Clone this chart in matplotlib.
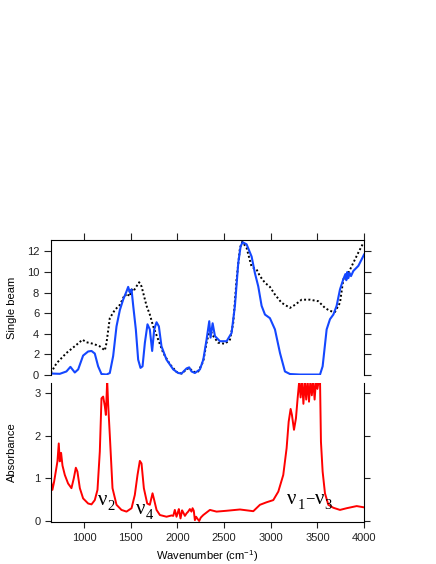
import numpy as np
import matplotlib.pyplot as plt

plt.rcParams['font.family'] = ['Liberation Sans', 'DejaVu Sans']

# single beam, blue trace
blue_x = [643, 739, 810, 853, 900, 936, 989, 1043, 1079, 1114, 1150, 1186, 1240, 1275,
          1311, 1347, 1383, 1418, 1454, 1472, 1490, 1508, 1526, 1554, 1579, 1604, 1626,
          1651, 1679, 1704, 1729, 1751, 1776, 1801, 1829, 1883, 1955, 2008, 2044, 2098,
          2126, 2151, 2187, 2241, 2277, 2312, 2341, 2355, 2377, 2402, 2455, 2527, 2580,
          2616, 2652, 2677, 2698, 2741, 2795, 2830, 2866, 2902, 2938, 2991, 3045, 3099,
          3152, 3206, 3313, 3528, 3556, 3599, 3635, 3671, 3706, 3742, 3778, 3800, 3810,
          3820, 3832, 3845, 3860, 3885, 3939, 4000]
blue_y = [0.1, 0.07, 0.3, 0.75, 0.2, 0.5, 1.85, 2.25, 2.3, 2.05, 0.8, 0.05, 0.0, 0.15,
          1.8, 4.7, 6.3, 7.3, 8.1, 8.55, 8.0, 8.3, 6.7, 4.4, 1.45, 0.65, 0.8,
          3.1, 4.9, 4.4, 2.3, 4.4, 5.1, 4.7, 2.75, 1.45, 0.5, 0.15, 0.1, 0.6,
          0.7, 0.3, 0.15, 0.5, 1.45, 3.4, 5.2, 3.6, 5.0, 3.75, 3.25, 3.25, 4.05,
          6.7, 10.9, 12.5, 12.9, 12.7, 11.5, 9.9, 8.6, 6.7, 5.85, 5.5, 4.4, 2.1,
          0.3, 0.05, 0.0, 0.0, 0.8, 4.4, 5.4, 5.85, 6.7, 8.3, 9.3, 9.8, 9.2,
          10.0, 9.4, 9.9, 9.6, 10.1, 10.6, 11.7]

# single beam, reference (dotted)
ref_x = [643, 704, 810, 918, 982, 1025, 1097, 1168, 1222, 1240, 1275, 1329, 1383, 1436,
         1470, 1490, 1500, 1510, 1526, 1561, 1590, 1615, 1669, 1704, 1740, 1794, 1848,
         1919, 1991, 2044, 2098, 2126, 2169, 2223, 2277, 2312, 2348, 2384, 2437, 2509,
         2563, 2598, 2634, 2670, 2695, 2741, 2795, 2848, 2884, 2938, 2991, 3045, 3116,
         3206, 3260, 3331, 3420, 3510, 3581, 3635, 3688, 3742, 3778, 3832, 3885, 3939,
         3993]
ref_y = [0.15, 1.1, 2.1, 2.9, 3.4, 3.15, 3.0, 2.75, 2.35, 3.1, 5.5, 6.3, 6.8, 7.8,
         7.6, 8.2, 7.7, 8.3, 8.1, 8.6, 9.0, 8.6, 6.7, 5.85, 4.7, 3.4, 2.1,
         1.0, 0.25, 0.1, 0.5, 0.65, 0.25, 0.3, 1.3, 3.1, 4.4, 3.75, 3.1, 3.0,
         3.4, 5.05, 9.3, 12.35, 12.95, 12.35, 10.5, 10.25, 9.6, 8.95, 8.55, 7.8, 7.0,
         6.5, 6.8, 7.3, 7.3, 7.15, 6.5, 6.2, 6.1, 7.0, 9.3, 9.9, 10.9, 11.9,
         12.85]

# absorbance
abs_x = [643, 660, 678, 696, 714, 728, 739, 753, 768, 793, 828, 864, 889, 911, 928, 954,
         989, 1043, 1079, 1114, 1143, 1168, 1186, 1204, 1222, 1233, 1247, 1257, 1275,
         1304, 1347, 1400, 1454, 1508, 1543, 1572, 1597, 1615, 1640, 1676, 1704, 1733,
         1751, 1776, 1812, 1883, 1937, 1955, 1972, 1990, 2004, 2015, 2033, 2050, 2062,
         2080, 2098, 2115, 2133, 2150, 2162, 2175, 2187, 2200, 2212, 2233, 2250, 2277,
         2348, 2419, 2527, 2670, 2813, 2884, 2956, 3027, 3081, 3134, 3170, 3192, 3213,
         3227, 3249, 3270, 3288, 3306, 3320, 3335, 3350, 3365, 3380, 3395, 3410, 3425,
         3440, 3455, 3470, 3485, 3500, 3515, 3528, 3538, 3556, 3581, 3617, 3671, 3742,
         3814, 3921, 4000]
abs_y = [0.96, 0.73, 0.92, 1.16, 1.4, 1.82, 1.4, 1.6, 1.3, 1.08, 0.88, 0.77, 1.0, 1.25,
         1.16, 0.77, 0.53, 0.41, 0.39, 0.49, 0.73, 1.63, 2.88, 2.92, 2.69, 2.49, 3.3,
         2.76, 2.02, 0.77, 0.38, 0.26, 0.22, 0.3, 0.61, 1.08, 1.41, 1.35, 0.77, 0.41,
         0.38, 0.65, 0.49, 0.26, 0.14, 0.1, 0.13, 0.12, 0.26, 0.1, 0.2, 0.28, 0.06, 0.25,
         0.2, 0.12, 0.18, 0.22, 0.28, 0.22, 0.3, 0.24, 0.02, 0.1, 0.06, 0.0, 0.08, 0.14,
         0.26, 0.22, 0.24, 0.27, 0.23, 0.38, 0.44, 0.49, 0.69, 1.08, 1.71, 2.33, 2.63,
         2.49, 2.14, 2.41, 2.88, 3.3, 2.9, 3.3, 2.75, 3.3, 2.85, 3.3, 2.8, 3.3, 2.95,
         3.3, 2.85, 3.3, 3.1, 3.3, 3.3, 1.86, 1.16, 0.65, 0.38, 0.31, 0.26,
         0.3, 0.35, 0.32]

xticks = [1000, 1500, 2000, 2500, 3000, 3500, 4000]

fig = plt.figure(figsize=(4.36, 5.64), dpi=100)
ax1 = fig.add_axes([0.117, 0.335, 0.718, 0.240])
ax2 = fig.add_axes([0.117, 0.074, 0.718, 0.247])

ax1.plot(ref_x, ref_y, color='black', linestyle=(0, (1, 1.2)), linewidth=1.4)
ax1.plot(blue_x, blue_y, color='#1447ff', linewidth=1.5)
ax2.plot(abs_x, abs_y, color='#ff0000', linewidth=1.4)

for ax in (ax1, ax2):
    ax.set_xlim(645, 4000)
    ax.set_xticks(xticks)
    ax.tick_params(direction='out', length=4, width=0.8, labelsize=8, colors='#222222')
    ax.tick_params(right=True)
    for s in ax.spines.values():
        s.set_linewidth(0.8)

ax1.set_ylim(-0.05, 13.15)
ax1.set_yticks([0, 2, 4, 6, 8, 10, 12])
ax1.spines['bottom'].set_visible(False)
ax1.tick_params(bottom=False, labelbottom=False, top=True, labeltop=False, length=5)
ax1.set_ylabel('Single beam', fontsize=8)
ax1.yaxis.set_label_coords(-0.11, 0.5)

ax2.set_ylim(-0.03, 3.24)
ax2.set_yticks([0, 1, 2, 3])
ax2.spines['top'].set_visible(False)
ax2.set_ylabel('Absorbance', fontsize=8)
ax2.yaxis.set_label_coords(-0.11, 0.5)
ax2.set_xlabel('Wavenumber (cm$\\mathregular{^{-1}}$)', fontsize=8)
ax2.xaxis.set_label_coords(0.5, -0.185)

# mode labels: upright serif nu with a lowered index, built piece by piece
ser = ['Liberation Serif', 'DejaVu Serif']

def mode_label(x, y, parts):
    for dx, dy, s, size in parts:
        ax2.annotate(s, xy=(x, y), xytext=(dx, dy), textcoords='offset points',
                     family=ser, fontsize=size, va='baseline', ha='left')

mode_label(1147, 0.38, [(0, 0, 'ν', 15), (7.2, -3.5, '2', 10.5)])
mode_label(1555, 0.16, [(0, 0, 'ν', 15), (7.2, -3.5, '4', 10.5)])
mode_label(3177, 0.40, [(0, 0, 'ν', 15), (7.2, -3.5, '1', 10.5), (12.6, 0.5, '−', 12),
                        (19.6, 0, 'ν', 15), (26.8, -3.5, '3', 10.5)])

fig.savefig('out.png', dpi=100)
